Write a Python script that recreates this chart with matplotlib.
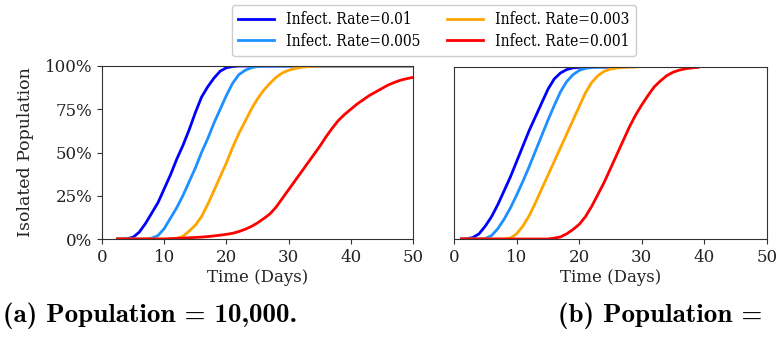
import matplotlib
matplotlib.use('Agg')
import matplotlib.pyplot as plt
from matplotlib.ticker import PercentFormatter

# ---- data (isolated population in %) ----
labels = ['Infect. Rate=0.01', 'Infect. Rate=0.005', 'Infect. Rate=0.003', 'Infect. Rate=0.001']
colors = ['#0000ff', '#1e90ff', '#ffa500', '#ff0000']

# (a) population = 10,000
a_blue_days = [2.5] + list(range(3, 23)) + [50]
a_blue = [0, 0, 0.2, 1, 4, 9, 15, 21, 29, 37, 46, 54, 63, 73, 82, 88, 93, 97, 99, 99.7, 100, 100]
a_lblue_days = [2.5, 7] + list(range(8, 27)) + [50]
a_lblue = [0, 0, 0.5, 2, 6, 12, 18, 25, 33, 41, 50, 58, 67, 75, 83, 90, 95, 97.5, 99, 99.7, 100, 100]
a_orange_days = [2.5, 11] + list(range(12, 36)) + [50]
a_orange = [0, 0, 0.5, 1.5, 4.5, 8, 13, 20, 28, 36, 44, 53, 61, 68, 75, 81, 86, 90, 93.5, 96,
            97.5, 98.5, 99.2, 99.6, 99.8, 100, 100]
a_red_days = [2.5, 10] + list(range(11, 51))
a_red = [0, 0, 0.2, 0.3, 0.5, 0.7, 0.9, 1.1, 1.4, 1.8, 2.2, 2.7, 3.3, 4.3, 5.6, 7.2, 9.3, 11.8,
         14.5, 18.5, 23.5, 28.5, 33.5, 38.5, 43.5, 48.5, 53.5, 59, 64, 68.5, 72, 75, 78, 80.5,
         83, 85, 87, 89, 90.5, 91.8, 92.7, 93.4]

# (b) second population
b_blue_days = [1.2] + list(range(2, 22)) + [25]
b_blue = [0, 0.2, 0.8, 3, 7.5, 13, 20, 28, 36, 45, 54, 63, 71, 79, 87, 93, 96.5, 98.5, 99.5, 99.8, 100, 100]
b_lblue_days = [1.2, 4] + list(range(5, 24)) + [27]
b_lblue = [0, 0, 0.3, 2, 6, 11.5, 18, 25.5, 33.5, 42, 51, 60, 69, 77.5, 85.5, 91.5, 95.5, 98,
           99.2, 99.7, 100, 100]
b_orange_days = [1.2, 8] + list(range(9, 30))
b_orange = [0, 0, 0.5, 3, 7.5, 13.5, 21, 29, 37, 45, 53, 61, 69, 77, 85, 91, 95, 97.5, 98.8,
            99.4, 99.7, 99.9, 100]
b_red_days = [1.2, 15] + list(range(16, 40))
b_red = [0, 0, 0.5, 1.2, 3, 5.5, 8.5, 13, 19, 26, 33, 41, 49, 57, 65, 72, 78, 83.5, 88.5, 92,
         95, 97, 98.2, 99, 99.5, 99.8]

panel_a = [(a_blue_days, a_blue), (a_lblue_days, a_lblue), (a_orange_days, a_orange), (a_red_days, a_red)]
panel_b = [(b_blue_days, b_blue), (b_lblue_days, b_lblue), (b_orange_days, b_orange), (b_red_days, b_red)]

plt.rcParams['font.family'] = ['DejaVu Serif']
plt.rcParams['font.size'] = 12

fig = plt.figure(figsize=(7.78, 3.45), dpi=100)
ax_a = fig.add_axes([102 / 778, 1 - 239 / 345, 311 / 778, 173 / 345])
ax_b = fig.add_axes([454 / 778, 1 - 239 / 345, 313 / 778, 172 / 345])

for ax, panel in [(ax_a, panel_a), (ax_b, panel_b)]:
    for (days, vals), lab, c in zip(panel, labels, colors):
        ax.plot(days, vals, color=c, lw=2, label=lab)
    ax.set_xlim(0, 50)
    ax.set_ylim(0, 100)
    ax.set_xticks([0, 10, 20, 30, 40, 50])
    ax.set_xlabel('Time (Days)', labelpad=2, color='#222222')
    ax.tick_params(colors='#333333', labelcolor='#222222', labelsize=12)
    for s in ax.spines.values():
        s.set_color('#333333')

ax_a.set_yticks([0, 25, 50, 75, 100])
ax_a.yaxis.set_major_formatter(PercentFormatter(xmax=100, decimals=0))
ax_a.set_ylabel('Isolated Population', color='#222222', labelpad=8, fontsize=12.5)
ax_b.set_yticks([])

handles, _ = ax_a.get_legend_handles_labels()
fig.legend(handles, labels, loc='upper center', bbox_to_anchor=(434 / 778, 1 - 5 / 345),
           borderaxespad=0, ncol=2,
           prop={'family': 'DejaVu Serif', 'stretch': 'condensed', 'size': 11.2},
           handlelength=2.3, columnspacing=1.7, labelspacing=0.3, borderpad=0.4,
           framealpha=1, edgecolor='#cccccc')

fig.text(3 / 778, 1 - 316 / 345, '(a) Population = 10,000.', family='cmb10', fontsize=19.5,
         va='center', ha='left')
fig.text(558 / 778, 1 - 316 / 345, '(b) Population =', family='cmb10', fontsize=19.5,
         va='center', ha='left')

fig.savefig('out.png', dpi=100)
